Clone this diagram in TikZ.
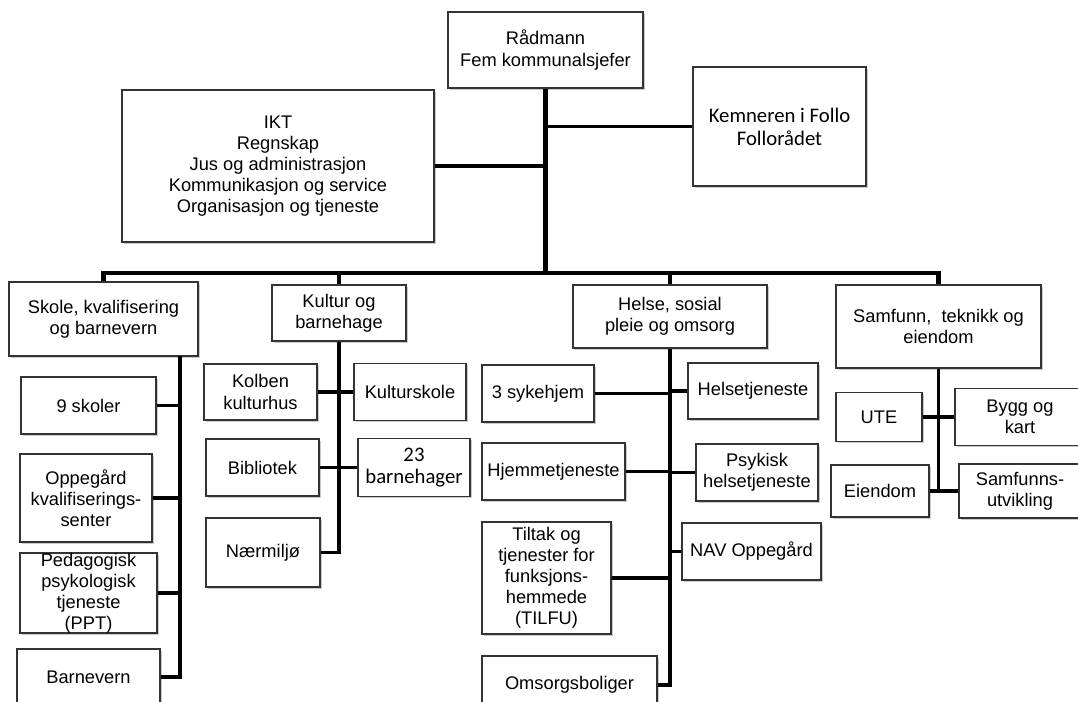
\documentclass[tikz,border=0pt]{standalone}
\usepackage{fontspec}
\setmainfont{Liberation Sans}
\newfontfamily\calibri{Carlito}
\usetikzlibrary{shadows}

\begin{document}
\begin{tikzpicture}[
    x=0.02cm, y=-0.02cm,
    unit/.style={rectangle, draw=black!80, fill=white, line width=0.8pt, inner sep=0pt, align=center, font=\fontsize{10.4}{12}\selectfont, drop shadow={shadow xshift=1pt, shadow yshift=-1pt, fill=black!35, opacity=0.6}},
    sz/.style 2 args={minimum width=#1cm, minimum height=#2cm},
    cal/.style={font=\calibri\fontsize{11.8}{13}\selectfont},
    link/.style={line width=2.2pt},
    bus/.style={line width=2.8pt}
]
\useasboundingbox (0,0) rectangle (1078,702);
\clip (0,0) rectangle (1078,702);

% Top
\node (radmann) [unit, sz={3.90}{1.52}] at (545.5,50) {Rådmann\\Fem kommunalsjefer};
\node (ikt) [unit, sz={6.24}{3.04}] at (278,166) {IKT\\Regnskap\\Jus og administrasjon\\Kommunikasjon og service\\Organisasjon og tjeneste};
\node (kemner) [unit, cal, sz={3.46}{2.38}] at (779.5,126.5) {Kemneren i Follo\\Follorådet};

% Sectors
\node (skole) [unit, sz={3.78}{1.48}] at (103.5,319) {Skole, kvalifisering\\og barnevern};
\node (kultur) [unit, sz={2.68}{1.12}] at (339,313) {Kultur og\\barnehage};
\node (helse) [unit, sz={3.88}{1.26}] at (670,316.5) {Helse, sosial\\pleie og omsorg};
\node (samfunn) [unit, sz={4.10}{1.66}] at (938.5,326.5) {Samfunn,\ \ teknikk og\\eiendom};

% Skole
\node (skoler) [unit, sz={2.70}{1.14}] at (88.5,405.5) {9 skoler};
\node (kvalif) [unit, sz={2.64}{1.76}] at (86,498) {Oppegård\\kvalifiserings-\\senter};
\node (ppt) [unit, sz={2.74}{1.60}] at (88.5,593) {Pedagogisk\\psykologisk\\tjeneste\\(PPT)};
\node (barnevern) [unit, sz={2.86}{1.12}] at (88.5,677) {Barnevern};

% Kultur
\node (kolben) [unit, sz={2.26}{1.12}] at (260.5,392) {Kolben\\kulturhus};
\node (kulturskole) [unit, sz={2.24}{1.14}] at (410,392) {Kulturskole};
\node (bibliotek) [unit, sz={2.26}{1.14}] at (262.5,467.5) {Bibliotek};
\node (barnehager) [unit, cal, sz={2.24}{1.16}] at (414,467.5) {23\\barnehager};
\node (naermiljo) [unit, sz={2.28}{1.38}] at (263,552.5) {Nærmiljø};

% Helse
\node (sykehjem) [unit, sz={2.24}{1.14}] at (538,393.5) {3 sykehjem};
\node (helsetj) [unit, sz={2.60}{1.12}] at (753,391) {Helsetjeneste};
\node (hjemme) [unit, sz={2.86}{1.14}] at (553.5,471.5) {Hjemmetjeneste};
\node (psykisk) [unit, sz={2.44}{1.14}] at (757,472.5) {Psykisk\\helsetjeneste};
\node (tilfu) [unit, sz={2.58}{2.24}] at (546.5,578) {Tiltak og\\tjenester for\\funksjons-\\hemmede\\(TILFU)};
\node (nav) [unit, sz={2.78}{1.14}] at (751.5,551.5) {NAV Oppegård};
\node (omsorg) [unit, sz={3.50}{1.16}] at (569.5,685) {Omsorgsboliger};

% Samfunn
\node (ute) [unit, sz={1.72}{0.98}] at (879,417) {UTE};
\node (bygg) [unit, sz={2.60}{1.14}] at (1020,417) {Bygg og\\kart};
\node (eiendom) [unit, sz={1.96}{1.04}] at (880,491) {Eiendom};
\node (utvikling) [unit, sz={2.44}{1.08}] at (1020,491) {Samfunns-\\utvikling};

% Lines
\coordinate (busy) at (0,273);
\coordinate (skoleline) at (180,356);
\draw [bus] (radmann.south) -- (radmann.south |- busy);
\draw [link] (ikt.east) -- (ikt.east -| radmann.south);
\draw [link] (kemner.west) -- (kemner.west -| radmann.south);
\draw [bus] (skole.north) -- (skole.north |- busy) -- (samfunn.north |- busy) -- (samfunn.north);
\draw [bus] (kultur.north) -- (kultur.north |- busy);
\draw [bus] (helse.north) -- (helse.north |- busy);

\draw [link] (skoleline) |- (barnevern.east);
\draw [link] (skoler.east) -- (skoler.east -| skoleline);
\draw [link] (kvalif.east) -- (kvalif.east -| skoleline);
\draw [link] (ppt.east) -- (ppt.east -| skoleline);

\draw [link] (kultur.south) |- (naermiljo.east);
\draw [link] (kolben.east) -- (kulturskole.west);
\draw [link] (bibliotek.east) -- (barnehager.west);

\draw [link] (helse.south) |- (omsorg.east);
\draw [link] (sykehjem.east) -- (sykehjem.east -| helse.south);
\draw [link] (helsetj.west) -- (helsetj.west -| helse.south);
\draw [link] (hjemme.east) -- (hjemme.east -| helse.south);
\draw [link] (psykisk.west) -- (psykisk.west -| helse.south);
\draw [link] (tilfu.east) -- (tilfu.east -| helse.south);
\draw [link] (nav.west) -- (nav.west -| helse.south);

\draw [link] (samfunn.south) -- (samfunn.south |- eiendom.east);
\draw [link] (ute.east) -- (bygg.west);
\draw [link] (eiendom.east) -- (utvikling.west);

\end{tikzpicture}
\end{document}
